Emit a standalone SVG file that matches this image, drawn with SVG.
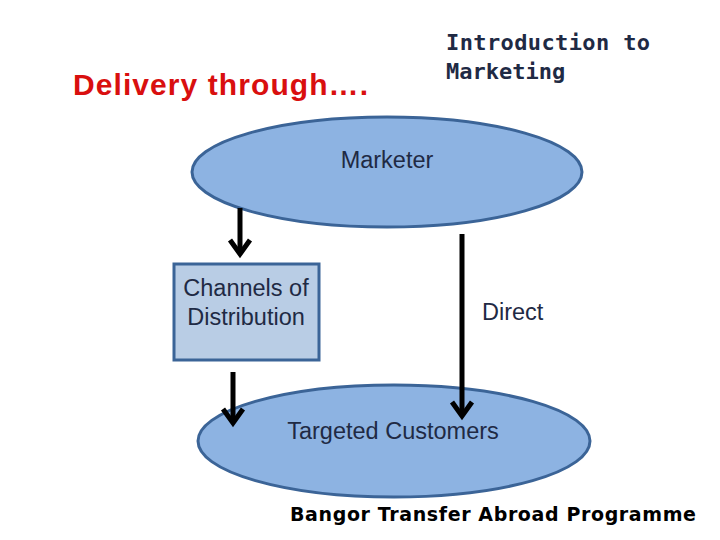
<svg xmlns="http://www.w3.org/2000/svg" width="720" height="540" viewBox="0 0 720 540">
<style>
.n{fill:#8db3e2;stroke:#3b6497;stroke-width:3}
.t{font-family:"Liberation Sans",Arial,sans-serif;font-size:23.5px;fill:#1f2a44}
.a{stroke:#000;stroke-width:5;fill:none}
.h{stroke:#000;stroke-width:5;fill:none;stroke-linejoin:miter}
</style>
<rect width="720" height="540" fill="#fff"/>
<text x="73" y="95" font-family="Liberation Sans,Arial,sans-serif" font-weight="bold" font-size="30" fill="#d90f0f" textLength="295">Delivery through….</text>
<text font-family="DejaVu Sans Mono,monospace" font-weight="bold" font-size="22" fill="#1f2a44"><tspan x="446" y="50" textLength="204">Introduction to</tspan><tspan x="446" y="79">Marketing</tspan></text>
<g id="marketer"><ellipse class="n" cx="387" cy="172" rx="195" ry="55"/><text class="t" x="387" y="168" text-anchor="middle">Marketer</text></g>
<g id="channels"><rect x="174" y="264" width="145" height="96" fill="#b9cde5" stroke="#3b6497" stroke-width="3"/><text class="t" text-anchor="middle"><tspan x="246" y="296">Channels of</tspan><tspan x="246" y="325">Distribution</tspan></text></g>
<g id="customers"><ellipse class="n" cx="394" cy="441" rx="196" ry="56"/><text class="t" x="393" y="439" text-anchor="middle">Targeted Customers</text></g>
<g id="direct"><text class="t" x="482" y="320">Direct</text></g>
<g id="connectors">
<path class="a" d="M240 208V254"/><path class="h" d="M230 240L240 254L250 240"/>
<path class="a" d="M233 372V423"/><path class="h" d="M223 409L233 423L243 409"/>
<path class="a" d="M462 234V416"/><path class="h" d="M452 402L462 416L472 402"/>
</g>
<text x="290" y="521" font-family="DejaVu Sans,sans-serif" font-weight="bold" font-size="19" fill="#000" textLength="406">Bangor Transfer Abroad Programme</text>
</svg>
